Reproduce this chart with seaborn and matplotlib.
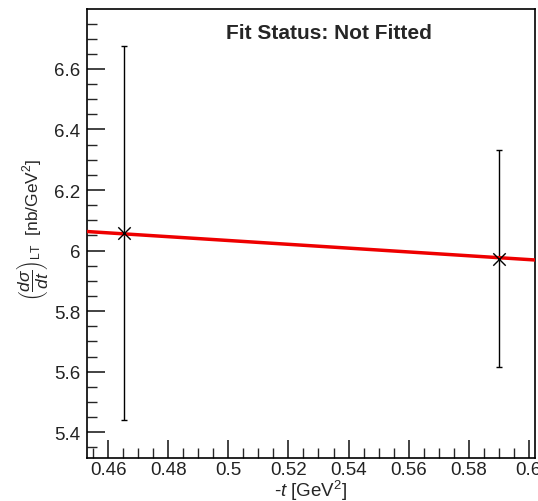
import matplotlib
matplotlib.use("Agg")
import matplotlib.pyplot as plt
from matplotlib.ticker import MultipleLocator, FuncFormatter
import seaborn as sns
import pandas as pd

# data
t_vals = [0.4653, 0.5901]
xs_vals = [6.057, 5.973]
xs_err = [0.618, 0.358]
fit_t = [0.4529, 0.6021]
fit_xs = [6.063, 5.969]
title = "Fit Status: Not Fitted"

sns.set_style("ticks")
plt.rcParams['font.family'] = ['Liberation Sans', 'DejaVu Sans']
plt.rcParams['mathtext.fontset'] = 'custom'
plt.rcParams['mathtext.rm'] = 'Liberation Sans'
plt.rcParams['mathtext.it'] = 'Liberation Sans:italic'
plt.rcParams['mathtext.bf'] = 'Liberation Sans:bold'

fig = plt.figure(figsize=(5.38, 5.02), dpi=100)
ax = fig.add_axes([0.1617, 0.0857, 0.9944 - 0.1617, 0.9801 - 0.0857])

pts = pd.DataFrame({"t": t_vals, "xs": xs_vals, "err": xs_err})
fit = pd.DataFrame({"t": fit_t, "xs": fit_xs})

ax.errorbar(pts["t"], pts["xs"], yerr=pts["err"], fmt="none", ecolor="black",
            elinewidth=1.0, capsize=2, capthick=1.0, zorder=2)
sns.lineplot(data=fit, x="t", y="xs", color="#ee0000", linewidth=2.5, ax=ax, zorder=3)
sns.scatterplot(data=pts, x="t", y="xs", marker="x", s=80, color="black",
                linewidth=1.0, ax=ax, zorder=4)

ax.set_xlim(0.4529, 0.6021)
ax.set_ylim(5.315, 6.798)

ax.xaxis.set_major_locator(MultipleLocator(0.02))
ax.xaxis.set_minor_locator(MultipleLocator(0.005))
ax.yaxis.set_major_locator(MultipleLocator(0.2))
ax.yaxis.set_minor_locator(MultipleLocator(0.05))

def fmt(v, pos):
    s = f"{v:.2f}".rstrip("0").rstrip(".")
    return s
ax.xaxis.set_major_formatter(FuncFormatter(fmt))
ax.yaxis.set_major_formatter(FuncFormatter(fmt))

ax.tick_params(axis="both", which="major", direction="in", length=13, width=1.2,
               labelsize=13.5, colors="#222222", pad=5)
ax.tick_params(axis="x", which="major", pad=2)
ax.tick_params(axis="both", which="minor", direction="in", length=7, width=1.0)
ax.tick_params(top=False, right=False, which="both")

for sp in ax.spines.values():
    sp.set_linewidth(1.2)
    sp.set_color("black")

ax.set_xlabel(r"-$t$ [GeV$^2$]", fontsize=13.5, va="center")
ax.xaxis.set_label_coords(0.5, -0.071)
ax.set_ylabel(r"$\left(\dfrac{d\sigma}{dt}\right)_{\rm LT}$  [nb/GeV$^2$]", fontsize=12.5,
              va="center")
ax.yaxis.set_label_coords(-0.122, 0.51)

ax.text(0.540, 0.947, title, transform=ax.transAxes, ha="center", va="center",
        fontsize=15, fontweight="bold")

fig.savefig("out.png", dpi=100)
